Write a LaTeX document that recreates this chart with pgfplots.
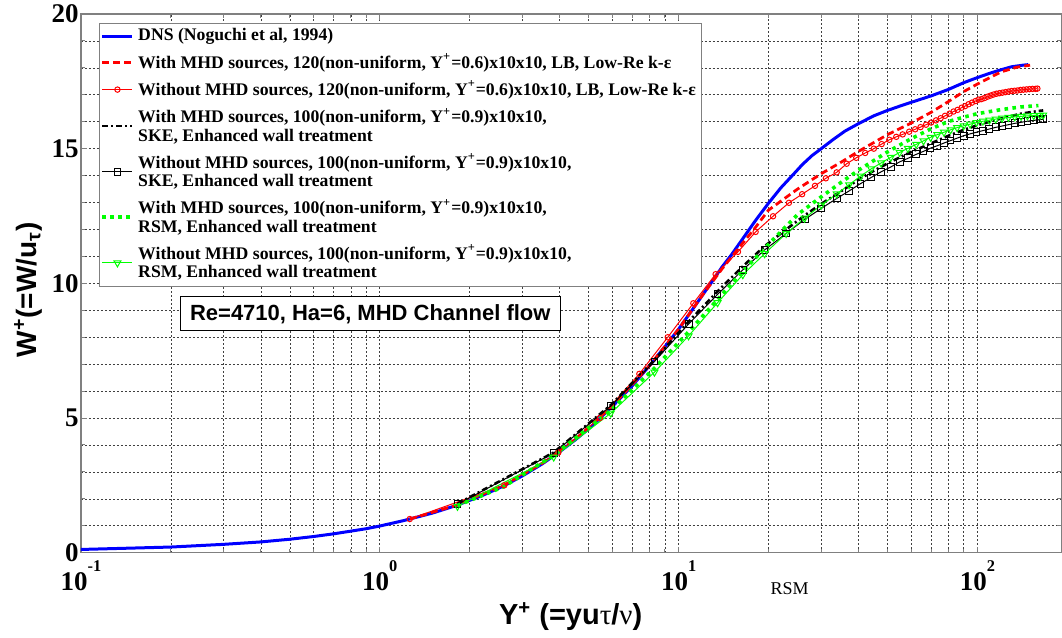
\documentclass[border=0pt]{standalone}
\usepackage{pgfplots}
\pgfplotsset{compat=1.18}
\usepackage{fontspec}
\setmainfont{Liberation Serif}
\newfontfamily\arial{Liberation Sans}

\pgfplotstableread{
x y
0.1 0.12
0.2 0.21
0.3 0.31
0.4 0.40
0.5 0.50
0.6 0.60
0.7 0.70
0.8 0.80
0.9 0.89
1.0 0.99
1.2 1.19
1.5 1.47
1.8 1.75
2.2 2.12
2.6 2.48
3.0 2.85
3.5 3.30
4.0 3.75
4.5 4.18
5.0 4.60
6.0 5.43
7.0 6.20
8.0 6.95
9.0 7.65
10.0 8.30
11.0 8.95
12.0 9.55
13.0 10.10
14.0 10.62
15.0 11.05
16.0 11.49
18.0 12.30
20.0 12.98
22.0 13.55
24.0 14.00
26.0 14.42
28.0 14.75
30.0 15.00
33.0 15.35
36.0 15.65
40.0 15.93
45.0 16.22
50.0 16.42
55.0 16.58
60.0 16.72
70.0 16.96
80.0 17.20
90.0 17.45
100.0 17.64
110.0 17.80
120.0 17.93
130.0 18.04
142.0 18.10
148.0 18.12
}\dns

\pgfplotstableread{
x y
1.26 1.25
1.8 1.76
2.6 2.50
3.5 3.32
4.5 4.20
6.0 5.45
8.0 6.95
10.0 8.30
12.0 9.55
14.0 10.55
16.0 11.35
18.0 12.05
20.0 12.72
25.0 13.50
30.0 14.07
35.0 14.50
40.0 14.90
50.0 15.52
60.0 15.95
70.0 16.35
80.0 16.75
90.0 17.12
100.0 17.40
120.0 17.85
135.0 18.02
150.0 18.10
}\lbmhd

\pgfplotstableread{
x y
1.26 1.25
2.61 2.50
3.96 3.72
5.45 5.00
7.39 6.64
9.20 8.00
11.2 9.26
13.3 10.34
15.8 11.17
18.1 11.91
20.7 12.49
23.4 12.99
25.9 13.31
28.6 13.62
31.1 13.90
33.8 14.12
36.5 14.44
39.3 14.66
42.1 14.84
45.0 15.00
47.8 15.17
50.7 15.33
53.5 15.44
56.2 15.53
59.1 15.63
61.9 15.72
64.5 15.80
67.3 15.89
70.0 15.97
72.7 16.05
75.3 16.13
77.9 16.22
80.7 16.30
83.2 16.38
85.8 16.44
88.5 16.52
90.9 16.58
93.4 16.65
95.9 16.71
98.6 16.77
100.9 16.82
103.2 16.84
105.6 16.88
108.1 16.93
110.6 16.97
113.2 17.01
115.8 17.04
118.5 17.06
121.3 17.08
124.1 17.10
127.0 17.12
130.0 17.14
133.0 17.15
136.1 17.16
139.3 17.18
142.5 17.19
145.9 17.20
149.3 17.21
152.8 17.22
156.3 17.22
158.7 17.23
}\lbnomhd

\pgfplotstableread{
x y
1.82 1.82
3.82 3.72
5.93 5.48
8.30 7.15
10.8 8.58
13.5 9.70
16.4 10.63
19.4 11.38
22.9 12.00
26.4 12.52
30.0 12.95
35.0 13.42
40.0 13.85
45.0 14.18
50.0 14.45
55.0 14.68
60.0 14.88
70.0 15.20
80.0 15.48
90.0 15.70
100.0 15.87
120.0 16.12
140.0 16.30
160.0 16.40
166.0 16.42
}\skemhd

\pgfplotstableread{
x y
1.82 1.80
3.82 3.70
5.93 5.45
8.30 7.10
10.8 8.49
13.5 9.59
16.4 10.50
19.4 11.24
22.9 11.85
26.4 12.37
30.0 12.78
33.8 13.15
37.2 13.43
40.6 13.70
44.1 13.93
47.6 14.14
51.3 14.32
54.9 14.51
58.5 14.64
62.4 14.79
66.0 14.90
69.7 15.02
73.4 15.11
77.3 15.21
81.3 15.30
85.5 15.39
89.9 15.48
94.5 15.55
99.3 15.61
104.3 15.67
109.6 15.73
115.1 15.79
120.9 15.84
127.0 15.89
133.3 15.94
140.0 15.98
147.0 16.02
154.3 16.05
162.0 16.08
166.0 16.09
}\skenomhd

\pgfplotstableread{
x y
1.82 1.75
2.6 2.45
3.82 3.62
5.93 5.28
8.3 6.85
10.8 8.20
13.5 9.40
16.4 10.45
20.0 11.45
25.0 12.55
30.0 13.21
35.0 13.75
40.0 14.20
50.0 14.88
60.0 15.37
70.0 15.74
80.0 16.01
90.0 16.17
100.0 16.30
120.0 16.45
140.0 16.55
160.0 16.60
}\rsmmhd

\pgfplotstableread{
x y
1.82 1.72
3.82 3.55
5.93 5.18
8.30 6.70
10.8 8.05
13.5 9.28
16.4 10.32
19.4 11.10
22.9 11.85
26.4 12.42
30.0 12.90
33.8 13.32
37.2 13.66
40.6 13.98
44.1 14.25
47.6 14.47
51.3 14.68
54.9 14.86
58.5 15.01
62.4 15.16
66.0 15.29
69.7 15.42
73.4 15.52
77.3 15.61
81.3 15.70
85.5 15.78
89.9 15.85
94.5 15.91
99.3 15.97
104.3 16.02
109.6 16.06
115.1 16.10
120.9 16.13
127.0 16.16
133.3 16.18
140.0 16.20
147.0 16.22
154.3 16.23
162.0 16.24
166.0 16.25
}\rsmnomhd

\begin{document}
\begin{tikzpicture}
\begin{axis}[
  at={(0pt,0pt)}, anchor=south west,
  scale only axis, width=490.5pt, height=269.5pt,
  xmode=log, log basis x=10,
  xmin=0.1, xmax=191, ymin=0, ymax=20,
  xtick={0.1,1,10,100},
  xticklabels={{10\raisebox{9.3pt}{\fontsize{8.2}{8.2}\selectfont -1}},
               {10\raisebox{9.3pt}{\fontsize{8.2}{8.2}\selectfont 0}},
               {10\raisebox{9.3pt}{\fontsize{8.2}{8.2}\selectfont 1}},
               {10\raisebox{9.3pt}{\fontsize{8.2}{8.2}\selectfont 2}}},
  minor xtick={0.2,0.3,0.4,0.5,0.6,0.7,0.8,0.9,2,3,4,5,6,7,8,9,20,30,40,50,60,70,80,90},
  ytick={0,5,10,15,20}, yticklabels={0,5,10,15,20},
  minor ytick={1,2,3,4,6,7,8,9,11,12,13,14,16,17,18,19},
  xticklabel style={font=\bfseries\fontsize{13.5}{13.5}\selectfont, inner sep=1pt, yshift=-3pt},
  yticklabel style={font=\bfseries\fontsize{13.5}{13.5}\selectfont, inner sep=1pt},
  grid=both,
  major grid style={black!75, dash pattern=on 1pt off 1pt, line width=0.3pt},
  minor grid style={black!75, dash pattern=on 1pt off 1pt, line width=0.3pt},
  axis line style={black!50, line width=0.6pt},
  tick style={black!50, line width=0.5pt},
  major tick length=3pt, minor tick length=2pt,
  legend cell align=left,
  legend image code/.code={\draw[mark repeat=2,mark phase=2,#1] plot coordinates {(0pt,0pt) (7.5pt,0pt) (15pt,0pt)};},
  legend style={at={(0.01835,0.9833)}, anchor=north west, draw=black!50, line width=0.5pt, fill=white,
    font=\bfseries\fontsize{8.85}{9.2}\selectfont, cells={align=left}, row sep=0.8pt, inner sep=0.6pt},
]
\addplot[blue, line width=1.5pt] table[x=x,y=y]{\dns};
\addlegendentry{DNS (Noguchi et al, 1994)}
\addplot[red, line width=1.4pt, dash pattern=on 3.5pt off 2pt] table[x=x,y=y]{\lbmhd};
\addlegendentry{With MHD sources, 120(non-uniform, Y\textsuperscript{+}=0.6)x10x10, LB, Low-Re k-ε}
\addplot[red, line width=0.5pt, mark=o, mark size=1.35pt, mark options={solid}] table[x=x,y=y]{\lbnomhd};
\addlegendentry{Without MHD sources, 120(non-uniform, Y\textsuperscript{+}=0.6)x10x10, LB, Low-Re k-ε}
\addplot[black, line width=1.3pt, dash pattern=on 3pt off 1.5pt on 1pt off 1.5pt] table[x=x,y=y]{\skemhd};
\addlegendentry{With MHD sources, 100(non-uniform, Y\textsuperscript{+}=0.9)x10x10,\\SKE, Enhanced wall treatment}
\addplot[black, line width=0.5pt, mark=square, mark size=1.7pt, mark options={solid, fill=white}] table[x=x,y=y]{\skenomhd};
\addlegendentry{Without MHD sources, 100(non-uniform, Y\textsuperscript{+}=0.9)x10x10,\\SKE, Enhanced wall treatment}
\addplot[green, line width=1.8pt, dash pattern=on 1.8pt off 2.2pt] table[x=x,y=y]{\rsmmhd};
\addlegendentry{With MHD sources, 100(non-uniform, Y\textsuperscript{+}=0.9)x10x10,\\RSM, Enhanced wall treatment}
\addplot[green, line width=0.5pt, mark=triangle, mark size=2pt, mark options={solid, rotate=180}] table[x=x,y=y]{\rsmnomhd};
\addlegendentry{Without MHD sources, 100(non-uniform, Y\textsuperscript{+}=0.9)x10x10,\\RSM, Enhanced wall treatment}
\end{axis}
\node[draw=black, line width=0.5pt, fill=white, font=\arial\bfseries\fontsize{11}{12}\selectfont, inner xsep=5pt, minimum height=17pt] at (144.75pt,119.5pt) {Re=4710, Ha=6, MHD Channel flow};
\node[font=\fontsize{9}{9}\selectfont] at (354.5pt,-18pt) {RSM};
\node[font=\arial\bfseries\fontsize{14.5}{14.5}\selectfont] at (245pt,-32pt) {Y\textsuperscript{+} (=yu{\rmfamily\mdseries τ}/{\rmfamily\mdseries ν})};
\node[rotate=90, font=\arial\bfseries\fontsize{14}{14}\selectfont] at (-26.5pt,131.5pt) {W\textsuperscript{+}(=W/u\textsubscript{τ})};
\path (-40.5pt,-42.5pt) rectangle (490.75pt,276.5pt);
\end{tikzpicture}
\end{document}
